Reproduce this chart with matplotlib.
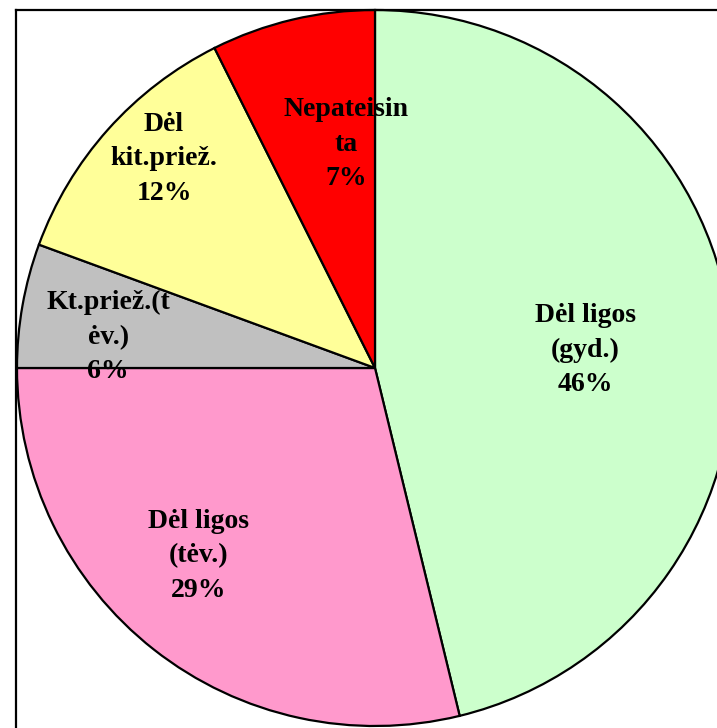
import matplotlib
matplotlib.use("Agg")
import matplotlib.pyplot as plt
import numpy as np

# Data (clockwise from 12 o'clock)
categories = ["Dėl ligos\n(gyd.)", "Dėl ligos\n(tėv.)", "Kt.priež.(t\nėv.)", "Dėl\nkit.priež.", "Nepateisin\nta"]
values = [46.2, 28.8, 5.6, 12.0, 7.4]
colors = ["#CCFFCC", "#FF99CC", "#C0C0C0", "#FFFF99", "#FF0000"]

W, H = 717, 728
fig = plt.figure(figsize=(W / 100, H / 100), dpi=100)
ax = fig.add_axes([0, 0, 1, 1])

cx, cy, R = 375, H - 368, 358
wedges, _ = ax.pie(values, colors=colors, startangle=90, counterclock=False,
                   center=(cx, cy), radius=R,
                   wedgeprops=dict(edgecolor="black", linewidth=1.6))

# label placement (fraction of radius, angle offset in degrees)
label_pos = [(0.59, -2.0), (0.72, -5.0), (0.75, 3.5), (0.83, -3.0), (0.63, -6.0)]
total = sum(values)
for w, cat, v, (fr, dang) in zip(wedges, categories, values, label_pos):
    mid = np.deg2rad((w.theta1 + w.theta2) / 2 + dang)
    x = cx + fr * R * np.cos(mid)
    y = cy + fr * R * np.sin(mid)
    ax.text(x, y, f"{cat}\n{round(v / total * 100):.0f}%", ha="center", va="center",
            fontsize=20, fontweight="bold", family="Liberation Serif",
            linespacing=1.5, color="black")

# chart frame
ax.plot([16, 16], [-10, H - 10], color="black", lw=1.6, solid_capstyle="projecting")
ax.plot([16, W + 10], [H - 10, H - 10], color="black", lw=1.6, solid_capstyle="projecting")

ax.set_xlim(0, W)
ax.set_ylim(0, H)
ax.set_aspect("auto")
ax.axis("off")
fig.savefig("out.png", dpi=100)
